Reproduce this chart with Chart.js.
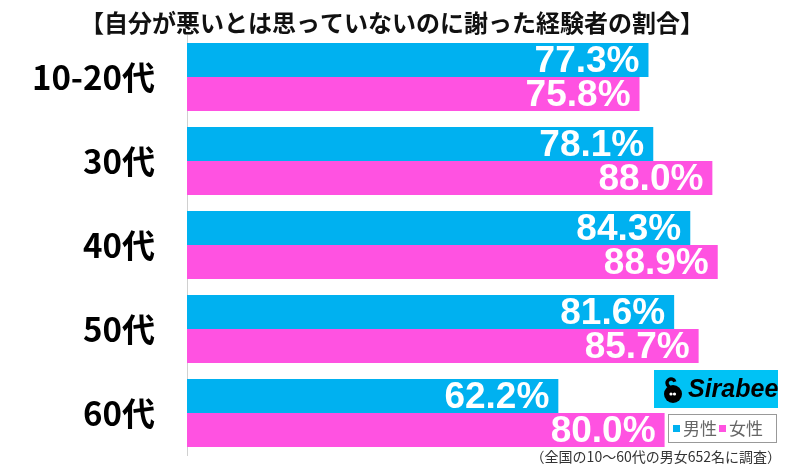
<!DOCTYPE html>
<html>
<head>
<meta charset="utf-8">
<script src="https://cdn.jsdelivr.net/npm/chart.js@4/dist/chart.umd.min.js"></script>
<style>
  body { margin: 0; background: #fff; }
  canvas { display: block; }
</style>
</head>
<body>
<canvas id="myChart" width="800" height="466"></canvas>
<script>
const ageGroups = ['10-20代', '30代', '40代', '50代', '60代'];
const maleValues = [77.3, 78.1, 84.3, 81.6, 62.2];
const femaleValues = [75.8, 88.0, 88.9, 85.7, 80.0];
const seriesNames = ['男性', '女性'];
const titleText = '【自分が悪いとは思っていないのに謝った経験者の割合】';
const noteText = '（全国の10～60代の男女652名に調査）';

const BLUE = '#00b1f0';
const PINK = '#ff52e1';
const JP = '"Noto Sans CJK JP", "Noto Sans", sans-serif';

// white value labels at the end of each bar
const valueLabels = {
    id: 'valueLabels',
    afterDatasetsDraw(chart) {
        const ctx = chart.ctx;
        ctx.save();
        ctx.fillStyle = '#fff';
        ctx.font = 'bold 37px "Liberation Sans", Arial, sans-serif';
        ctx.textAlign = 'right';
        ctx.textBaseline = 'middle';
        chart.data.datasets.forEach((ds, i) => {
            chart.getDatasetMeta(i).data.forEach((bar, j) => {
                ctx.fillText(ds.data[j].toFixed(1) + '%', bar.x - 9, bar.y + 2);
            });
        });
        ctx.restore();
    }
};

// logo, legend box and footnote
const extras = {
    id: 'extras',
    afterDraw(chart) {
        const ctx = chart.ctx;
        ctx.save();

        // Sirabee logo
        ctx.fillStyle = '#00c2f5';
        ctx.fillRect(654, 370, 124, 38);
        ctx.fillStyle = '#000';
        ctx.beginPath();
        ctx.arc(673, 394, 9, 0, Math.PI * 2);
        ctx.fill();
        ctx.strokeStyle = '#000';
        ctx.lineWidth = 3.5;
        ctx.beginPath();
        ctx.arc(671, 383, 4, Math.PI * 0.6, Math.PI * 1.9);
        ctx.stroke();
        ctx.fillStyle = '#fff';
        ctx.beginPath();
        ctx.arc(671, 394, 1.6, 0, Math.PI * 2);
        ctx.arc(674.5, 394, 1.6, 0, Math.PI * 2);
        ctx.fill();
        ctx.fillStyle = '#000';
        ctx.font = 'italic bold 25px "Liberation Sans", Arial, sans-serif';
        ctx.textAlign = 'left';
        ctx.textBaseline = 'middle';
        ctx.fillText('Sirabee', 688, 390);

        // legend
        ctx.fillStyle = '#fff';
        ctx.fillRect(668, 414, 109, 29);
        ctx.strokeStyle = '#999';
        ctx.lineWidth = 1;
        ctx.strokeRect(668.5, 414.5, 108, 28);
        ctx.font = '17px ' + JP;
        ctx.textBaseline = 'middle';
        ctx.fillStyle = BLUE;
        ctx.fillRect(673, 425, 7, 7);
        ctx.fillStyle = '#666';
        ctx.fillText(seriesNames[0], 683, 429);
        ctx.fillStyle = PINK;
        ctx.fillRect(719, 425, 7, 7);
        ctx.fillStyle = '#666';
        ctx.fillText(seriesNames[1], 729, 429);

        // footnote
        ctx.fillStyle = '#333';
        ctx.font = '14px ' + JP;
        ctx.textAlign = 'right';
        ctx.fillText(noteText, 781, 457);
        ctx.restore();
    }
};

const ctx = document.getElementById('myChart').getContext('2d');
new Chart(ctx, {
    type: 'bar',
    data: {
        labels: ageGroups,
        datasets: [{
            label: seriesNames[0],
            data: maleValues,
            backgroundColor: BLUE
        }, {
            label: seriesNames[1],
            data: femaleValues,
            backgroundColor: PINK
        }]
    },
    options: {
        indexAxis: 'y',
        responsive: false,
        animation: false,
        layout: { padding: { left: 0, right: 16, top: 0, bottom: 11 } },
        datasets: {
            bar: { categoryPercentage: 0.81, barPercentage: 1.0 }
        },
        plugins: {
            legend: { display: false },
            tooltip: { enabled: false },
            title: {
                display: true,
                text: titleText,
                color: '#111',
                font: { family: JP, size: 24, weight: 'bold', lineHeight: 1 },
                padding: { top: 11, bottom: 0 }
            }
        },
        scales: {
            x: {
                display: false,
                min: 0,
                max: 100
            },
            y: {
                afterFit: scale => {
                    scale.width = 187;
                    scale.paddingTop = 0;
                    scale.paddingBottom = 0;
                },
                grid: { display: false, drawTicks: false },
                border: { display: true, color: '#d0d0d0', width: 1 },
                ticks: {
                    color: '#000',
                    padding: 32,
                    font: { family: JP, size: 33, weight: 'bold' }
                }
            }
        }
    },
    plugins: [valueLabels, extras]
});
</script>
</body>
</html>
